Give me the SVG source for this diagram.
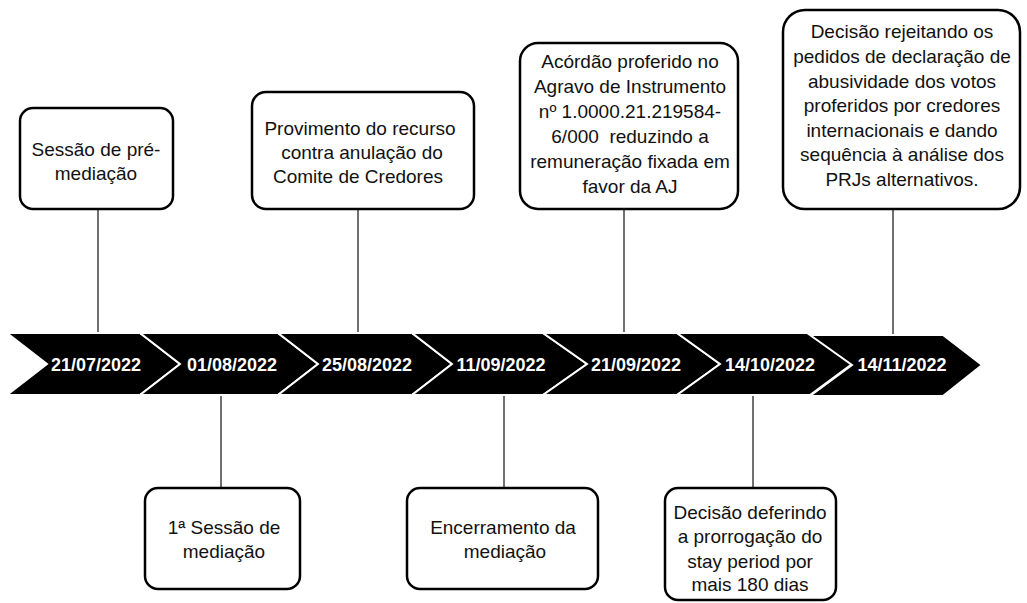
<svg xmlns="http://www.w3.org/2000/svg" width="1027" height="603" viewBox="0 0 1027 603">
<style>
.box{fill:#fff;stroke:#000;stroke-width:2.5}
.t{font-family:"Liberation Sans",Arial,sans-serif;font-size:19px;fill:#111;text-anchor:middle}
.d{font-family:"Liberation Sans",Arial,sans-serif;font-size:18px;font-weight:bold;fill:#fff;text-anchor:middle}
.chev{fill:#000;stroke:#fff;stroke-width:2}
.c{stroke:#707070;stroke-width:2;fill:none}
</style>
<rect width="1027" height="603" fill="#fff"/>
<g id="connectors">
<line class="c" x1="98" y1="209" x2="98" y2="334"/>
<line class="c" x1="358" y1="209" x2="358" y2="334"/>
<line class="c" x1="624" y1="209" x2="624" y2="334"/>
<line class="c" x1="893" y1="209" x2="893" y2="336"/>
<line class="c" x1="221" y1="395" x2="221" y2="488"/>
<line class="c" x1="504" y1="395" x2="504" y2="488"/>
<line class="c" x1="753" y1="395" x2="753" y2="488"/>
</g>
<g id="timeline">
<polygon class="chev" points="7,333 140,333 180,364 140,395 7,395 47,364"/>
<polygon class="chev" points="140,333 278,333 318,364 278,395 140,395 180,364"/>
<polygon class="chev" points="278,333 412,333 452,364 412,395 278,395 318,364"/>
<polygon class="chev" points="412,333 543,333 587,364 543,395 412,395 452,364"/>
<polygon class="chev" points="543,333 677,333 720,364 677,395 543,395 587,364"/>
<polygon class="chev" points="677,333 810,333 852,364 810,395 677,395 720,364"/>
<polygon class="chev" points="810,335 943,335 982,365 943,396 810,396 852,365"/>
<text class="d" x="96" y="371">21/07/2022</text>
<text class="d" x="232" y="371">01/08/2022</text>
<text class="d" x="367" y="371">25/08/2022</text>
<text class="d" x="501" y="371">11/09/2022</text>
<text class="d" x="636" y="371">21/09/2022</text>
<text class="d" x="770" y="371">14/10/2022</text>
<text class="d" x="902" y="371">14/11/2022</text>
</g>
<g id="n1">
<rect class="box" x="20" y="108" width="153" height="101" rx="13"/>
<text class="t" x="96" y="156">Sessão de pré-</text>
<text class="t" x="96" y="180">mediação</text>
</g>
<g id="n2">
<rect class="box" x="252" y="92" width="222" height="117" rx="14"/>
<text class="t" x="360" y="135">Provimento do recurso</text>
<text class="t" x="362" y="159">contra anulação do</text>
<text class="t" x="358" y="183">Comite de Credores</text>
</g>
<g id="n3">
<rect class="box" x="520" y="43" width="218" height="166" rx="18"/>
<text class="t" x="630" y="68">Acórdão proferido no</text>
<text class="t" x="630" y="93">Agravo de Instrumento</text>
<text class="t" x="630" y="118">nº 1.0000.21.219584-</text>
<text class="t" x="630" y="143" xml:space="preserve">6/000  reduzindo a</text>
<text class="t" x="630" y="168">remuneração fixada em</text>
<text class="t" x="630" y="193">favor da AJ</text>
</g>
<g id="n4">
<rect class="box" x="783" y="10" width="237" height="199" rx="22"/>
<text class="t" x="902" y="38">Decisão rejeitando os</text>
<text class="t" x="902" y="63">pedidos de declaração de</text>
<text class="t" x="902" y="88">abusividade dos votos</text>
<text class="t" x="902" y="112">proferidos por credores</text>
<text class="t" x="902" y="137">internacionais e dando</text>
<text class="t" x="902" y="161">sequência à análise dos</text>
<text class="t" x="902" y="186">PRJs alternativos.</text>
</g>
<g id="n5">
<rect class="box" x="145" y="488" width="155" height="101" rx="13"/>
<text class="t" x="224" y="534">1ª Sessão de</text>
<text class="t" x="224" y="558">mediação</text>
</g>
<g id="n6">
<rect class="box" x="407" y="488" width="191" height="101" rx="13"/>
<text class="t" x="503" y="534">Encerramento da</text>
<text class="t" x="505" y="558">mediação</text>
</g>
<g id="n7">
<rect class="box" x="665" y="488" width="171" height="112" rx="13"/>
<text class="t" x="750" y="519">Decisão deferindo</text>
<text class="t" x="750" y="543">a prorrogação do</text>
<text class="t" x="750" y="568">stay period por</text>
<text class="t" x="750" y="591">mais 180 dias</text>
</g>
</svg>
